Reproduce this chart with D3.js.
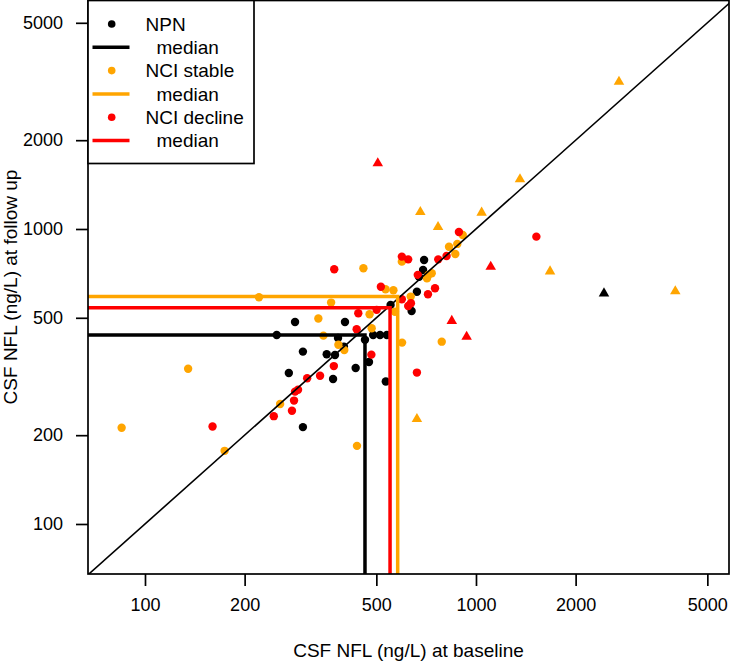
<!DOCTYPE html>
<html>
<head>
<meta charset="utf-8">
<script src="https://cdn.jsdelivr.net/npm/d3@7"></script>
<style>
  html, body { margin: 0; padding: 0; background: #fff; }
  svg { display: block; }
  text { font-family: "Liberation Sans", Arial, sans-serif; fill: #000; }
</style>
</head>
<body>
<div id="chart"></div>
<script>
// ---------- data (ng/L) ----------
// NPN (black)
const npnDotBaseline = [284, 402, 250, 383, 462, 489, 513, 538, 300, 354, 375, 399, 272, 370, 433, 475, 534, 300, 552, 639, 663, 673, 692, 697];
const npnDotFollowup = [484, 484, 437, 427, 421, 437, 437, 437, 384, 376, 374, 399, 325, 310, 338, 354, 304, 213, 553, 527, 613, 688, 726, 785];
const npnTriBaseline = [2436];
const npnTriFollowup = [605];
// NCI stable (orange)
const stableDotBaseline = [457, 597, 221, 365, 334, 477, 533, 563, 569, 635, 484, 346, 384, 400, 598, 788, 256, 718, 735, 711, 829, 878, 866, 912, 135, 85, 174, 437];
const stableDotFollowup = [736, 775, 587, 563, 497, 514, 625, 620, 524, 590, 461, 435, 405, 389, 412, 415, 255, 698, 708, 680, 871, 890, 823, 954, 336, 212, 177, 184];
const stableTriBaseline = [2704, 1358, 1040, 679, 768, 1674, 4001, 663];
const stableTriFollowup = [3157, 1474, 1136, 1142, 1016, 718, 615, 227];
// NCI decline (red)
const declineDotBaseline = [373, 597, 624, 769, 815, 888, 1522, 516, 441, 501, 436, 636, 624, 716, 752, 597, 667, 483, 372, 338, 309, 663, 290, 284, 282, 278, 245, 160];
const declineDotFollowup = [730, 806, 789, 789, 810, 977, 942, 637, 518, 532, 457, 560, 548, 601, 630, 578, 699, 375, 343, 318, 312, 326, 285, 281, 262, 242, 232, 214];
const declineTriBaseline = [505, 1108, 845, 937];
const declineTriFollowup = [1670, 745, 488, 431];
// medians [baseline, follow-up]
const groupNames = ["NPN", "NCI stable", "NCI decline"];
const groupColors = ["#000000", "#FFA500", "#FF0000"];
const medianBaseline = [462, 580, 550];
const medianFollowup = [437, 590, 541];
// axis ticks
const tickValues = [100, 200, 500, 1000, 2000, 5000];

// ---------- layout ----------
const W = 732, H = 667;
const L = 88, R = 729, T = 0, B = 574;

const svg = d3.select("#chart").append("svg").attr("width", W).attr("height", H);

const x = d3.scaleLog().domain([67.27, 5813]).range([L, R]);
const y = d3.scaleLog().domain([67.68, 5974]).range([B, T]);

svg.append("clipPath").attr("id", "clip")
  .append("rect").attr("x", L).attr("y", T).attr("width", R - L).attr("height", B - T);

const plot = svg.append("g").attr("clip-path", "url(#clip)");

// points
const groups = [
  {dx: npnDotBaseline, dy: npnDotFollowup, tx: npnTriBaseline, ty: npnTriFollowup},
  {dx: stableDotBaseline, dy: stableDotFollowup, tx: stableTriBaseline, ty: stableTriFollowup},
  {dx: declineDotBaseline, dy: declineDotFollowup, tx: declineTriBaseline, ty: declineTriFollowup}
];
const tri = d3.symbol().type(d3.symbolTriangle).size(48);
groups.forEach((g, i) => {
  const col = groupColors[i];
  plot.append("g").selectAll("circle").data(g.dx.map((v, k) => [v, g.dy[k]]))
    .join("circle").attr("cx", d => x(d[0])).attr("cy", d => y(d[1])).attr("r", 4.2)
    .attr("fill", col);
  plot.append("g").selectAll("path").data(g.tx.map((v, k) => [v, g.ty[k]]))
    .join("path").attr("d", tri)
    .attr("transform", d => `translate(${x(d[0])},${y(d[1])})`)
    .attr("fill", col);
});

// identity line
plot.append("line")
  .attr("x1", x(60)).attr("y1", y(60)).attr("x2", x(7000)).attr("y2", y(7000))
  .attr("stroke", "#000").attr("stroke-width", 1.6);

// median lines
groupNames.forEach((n, i) => {
  const mx = x(medianBaseline[i]), my = y(medianFollowup[i]);
  plot.append("path")
    .attr("d", `M${L},${my}H${mx}V${B}`)
    .attr("fill", "none").attr("stroke", groupColors[i]).attr("stroke-width", 3.5);
});

// frame
svg.append("rect").attr("x", L).attr("y", T + 0.5).attr("width", R - L).attr("height", B - T - 0.5)
  .attr("fill", "none").attr("stroke", "#000").attr("stroke-width", 1.7);

// x axis
const xAxis = svg.append("g").attr("transform", `translate(0,${B})`)
  .call(d3.axisBottom(x).tickValues(tickValues).tickFormat(d3.format("d")).tickSize(12).tickPadding(12));
xAxis.select(".domain").remove();
xAxis.selectAll("line").attr("stroke-width", 1.7);
xAxis.selectAll("text").attr("font-size", 18).style("font-family", "Liberation Sans, Arial, sans-serif");

// y axis
const yAxis = svg.append("g").attr("transform", `translate(${L},0)`)
  .call(d3.axisLeft(y).tickValues(tickValues).tickFormat(d3.format("d")).tickSize(12).tickPadding(13));
yAxis.select(".domain").remove();
yAxis.selectAll("line").attr("stroke-width", 1.7);
yAxis.selectAll("text").attr("font-size", 18).style("font-family", "Liberation Sans, Arial, sans-serif");

// axis titles
svg.append("text").attr("x", (L + R) / 2).attr("y", 657).attr("text-anchor", "middle")
  .attr("font-size", 19).text("CSF NFL (ng/L) at baseline");
svg.append("text").attr("transform", `translate(17,${(T + B) / 2}) rotate(-90)`)
  .attr("text-anchor", "middle").attr("font-size", 19).text("CSF NFL (ng/L) at follow up");

// legend
const leg = svg.append("g");
leg.append("rect").attr("x", L).attr("y", 0.5).attr("width", 254 - L).attr("height", 163)
  .attr("fill", "#fff").attr("stroke", "#000").attr("stroke-width", 1.7);
groupNames.forEach((n, i) => {
  const y0 = 24 + i * 46.6;
  leg.append("circle").attr("cx", 111.7).attr("cy", y0).attr("r", 3.8).attr("fill", groupColors[i]);
  leg.append("text").attr("x", 145.5).attr("y", y0).attr("dy", "0.35em").attr("font-size", 19).text(n);
  const y1 = y0 + 23.3;
  leg.append("line").attr("x1", 92.5).attr("x2", 129.5).attr("y1", y1).attr("y2", y1)
    .attr("stroke", groupColors[i]).attr("stroke-width", 3.5);
  leg.append("text").attr("x", 156.5).attr("y", y1).attr("dy", "0.35em").attr("font-size", 19).text("median");
});
</script>
</body>
</html>
